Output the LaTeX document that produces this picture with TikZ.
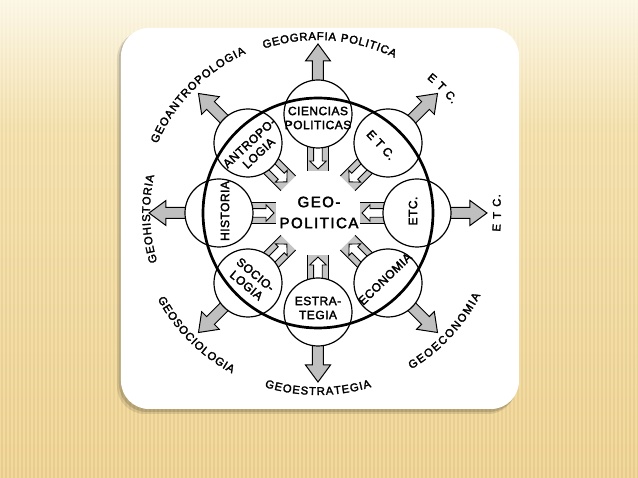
\documentclass[tikz,border=0pt]{standalone}
\usepackage{fontspec}
\setmainfont{Liberation Sans}
\newfontfamily\geofam[LetterSpace=10,FakeBold=2.6]{Liberation Sans}
\newfontfamily\infam[LetterSpace=4,FakeBold=2.4]{Liberation Sans}
\font\olraw="Liberation Sans:embolden=2.4" at 11.3pt
\definecolor{bgtop}{HTML}{FBF5E3}
\definecolor{bgmid}{HTML}{F1DBA2}
\definecolor{bgbot}{HTML}{EACC85}
\definecolor{arrowgray}{HTML}{BFBFBF}
\definecolor{bandgray}{HTML}{C4C4C4}
\newdimen\arcw
\newbox\arcbox
\newcommand\arclabel[6]{%
  \gdef\arctot{0}%
  \foreach \ch in {#6}{%
    \setbox\arcbox=\hbox{\olraw\ch}\global\arcw=\wd\arcbox
    \pgfmathsetmacro\arctmp{\arctot+\the\arcw+#5}%
    \xdef\arctot{\arctmp}%
  }%
  \pgfmathsetmacro\arctmp{-(\arctot-#5)/2}%
  \xdef\arcpos{\arctmp}%
  \foreach \ch [count=\i] in {#6}{%
    \setbox\arcbox=\hbox{\olraw\ch}\global\arcw=\wd\arcbox
    \pgfmathsetmacro\arcmid{\arcpos+\the\arcw/2}%
    \pgfmathsetmacro\arcang{#2-(#4)*\arcmid/#3*57.29578}%
    \pgfmathsetmacro\arcrot{\arcang-(#4)*90}%
    \node[olbl, rotate=\arcrot] (#1\i) at (\arcang:#3) {\ch};
    \pgfmathsetmacro\arctmp{\arcpos+\the\arcw+#5}%
    \xdef\arcpos{\arctmp}%
  }%
}
\tikzset{
  outarrow/.style={fill=arrowgray, draw=black, line width=1pt, line join=miter},
  bandfill/.style={fill=bandgray},
  bandline/.style={draw=black, line width=0.9pt},
  inarrow/.style={fill=white, draw=black, line width=0.9pt, line join=miter},
  smallc/.style={circle, draw=black, fill=white, line width=1.2pt, minimum size=68pt, inner sep=0pt},
  bigc/.style={circle, draw=black, line width=2.7pt, minimum size=230pt, inner sep=0pt},
  inlbl/.style={font=\infam\fontsize{12}{14}\selectfont, align=center, inner sep=0pt},
  geolbl/.style={font=\geofam\fontsize{15}{21}\selectfont, align=center, inner sep=0pt},
  olbl/.style={font=\olraw, inner sep=0pt, text height=8pt, text depth=0pt},
}
\begin{document}
\begin{tikzpicture}[x=1pt,y=1pt]
\useasboundingbox (-318,-265) rectangle (320,213);
% background
\shade[top color=bgtop, bottom color=bgmid] (-318,83) rectangle (320,213);
\shade[top color=bgmid, bottom color=bgbot] (-318,-265) rectangle (320,83.5);
\foreach \x in {-318,-314,...,320}
  \draw[white, opacity=0.25, line width=1.2pt] (\x,-265) -- (\x,213);
% card shadow and card
\fill[black, opacity=0.10, rounded corners=28pt] (-201,-201) rectangle (198,182);
\fill[black, opacity=0.14, rounded corners=28pt] (-199,-199) rectangle (199,183);
\fill[white, rounded corners=28pt] (-197,-196) rectangle (201,185);
% outer arrows
\foreach \a in {0,45,...,315}
  \draw[outarrow, rotate=\a] (125,-5.5) -- (152,-5.5) -- (152,-12.5) -- (169,0)
     -- (152,12.5) -- (152,5.5) -- (125,5.5) -- cycle;
% inner arrows
\foreach \a in {0,45,...,315}{
  \fill[bandfill, rotate=\a] (42,-10.5) rectangle (70,10.5);
  \draw[bandline, rotate=\a] (42,-10.5) -- (70,-10.5) (42,10.5) -- (70,10.5);
  \draw[inarrow, rotate=\a] (70,-4.3) -- (52,-4.3) -- (52,-8.3) -- (44,0) -- (52,8.3)
     -- (52,4.3) -- (70,4.3) -- cycle;
}
% small circles
\foreach \a in {0,45,...,315}
  \node[smallc] (c\a) at (\a:99) {};
% big circle
\node[bigc] (big) at (0,0) {};
% inner labels
\node[geolbl] (geo) at (1,0.5) {GEO-\\POLITICA};
\node[inlbl] (tcp) at (0,95) {CIENCIAS\\POLITICAS};
\node[inlbl, rotate=43] (tan) at (-64,65) {ANTROPO-\\LOGIA};
\node[inlbl, rotate=90] (thi) at (-93,2) {HISTORIA};
\node[inlbl, rotate=-40] (tso) at (-67,-67) {SOCIO-\\LOGIA};
\node[inlbl] (tes) at (0,-95) {ESTRA-\\TEGIA};
\node[inlbl, rotate=44] (tec) at (67,-66) {ECONOMIA};
\node[inlbl, rotate=90] (tet) at (95,2) {ETC.};
\node[inlbl, rotate=-47] (tne) at (63,68) {E T C.};
% outer labels
\arclabel{gp}{86}{177}{1}{0.9}{G,E,O,G,R,A,F,I,A,~,P,O,L,I,T,I,C,A}
\arclabel{ga}{135.5}{179}{1}{1.2}{G,E,O,A,N,T,R,O,P,O,L,O,G,I,A}
\arclabel{gh}{182}{172}{1}{1.1}{G,E,O,H,I,S,T,O,R,I,A}
\arclabel{en}{45}{177}{1}{1.0}{E,~,T,~,C,.}
\arclabel{gs}{225}{178}{-1}{0.7}{G,E,O,S,O,C,I,O,L,O,G,I,A}
\arclabel{ge}{270}{178}{-1}{0.8}{G,E,O,E,S,T,R,A,T,E,G,I,A}
\arclabel{gc}{317}{178}{-1}{1.4}{G,E,O,E,C,O,N,O,M,I,A}
\arclabel{er}{0}{179}{-1}{1.0}{E,~,T,~,C,.}
\end{tikzpicture}
\end{document}
